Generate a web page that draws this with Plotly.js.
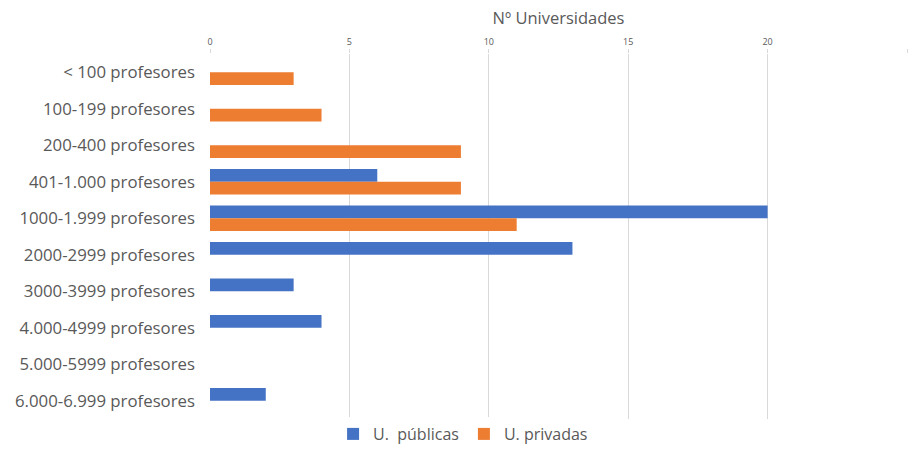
<!DOCTYPE html>
<html>
<head>
<meta charset="utf-8">
<script src="https://cdn.plot.ly/plotly-3.0.1.min.js"></script>
<style>html,body{margin:0;padding:0;background:#fff;}#chart{width:908px;height:451px;}</style>
</head>
<body>
<div id="chart"></div>
<script>
const categories = ["< 100 profesores","100-199 profesores","200-400 profesores","401-1.000 profesores","1000-1.999 profesores","2000-2999 profesores","3000-3999 profesores","4.000-4999 profesores","5.000-5999 profesores","6.000-6.999 profesores"];
const publicas = [0,0,0,6,20,13,3,4,0,2];
const privadas = [3,4,9,9,11,0,0,0,0,0];
const tickVals = [0,5,10,15,20,25];

const font = "Open Sans, Noto Sans, sans-serif";
const traces = [
  {type:"bar", orientation:"h", name:"U.  públicas", y:categories, x:publicas, marker:{color:"#4472C4"}, hoverinfo:"x+y"},
  {type:"bar", orientation:"h", name:"U. privadas", y:categories, x:privadas, marker:{color:"#ED7D31"}, hoverinfo:"x+y"}
];
const layout = {
  width:908, height:451,
  margin:{l:210, r:1, t:54, b:32, autoexpand:false},
  paper_bgcolor:"#fff", plot_bgcolor:"#fff",
  barmode:"group", bargap:0.3, bargroupgap:0,
  font:{family:font, color:"#595959"},
  xaxis:{side:"top", range:[0,25], tickvals:tickVals, ticktext:tickVals.map(String),
    showgrid:true, gridcolor:"#D9D9D9", gridwidth:1, zeroline:false, showline:false,
    ticks:"outside", ticklen:4, tickcolor:"#D9D9D9", automargin:false,
    tickfont:{size:9, color:"#595959", family:font},
    title:{text:"Nº Universidades", font:{size:16.5, color:"#595959", family:font}, standoff:6}},
  yaxis:{autorange:"reversed", type:"category", showgrid:false, zeroline:false, showline:false, automargin:false,
    ticks:"", ticklabelstandoff:14, tickfont:{size:16.8, color:"#595959", family:font}},
  showlegend:true,
  legend:{orientation:"h", xref:"container", yref:"container", x:0.51, xanchor:"center", y:-0.012, yanchor:"bottom",
    font:{size:16, color:"#595959", family:font}, itemwidth:30, traceorder:"normal"}
};
Plotly.newPlot("chart", traces, layout, {displayModeBar:false, staticPlot:true});
</script>
</body>
</html>
